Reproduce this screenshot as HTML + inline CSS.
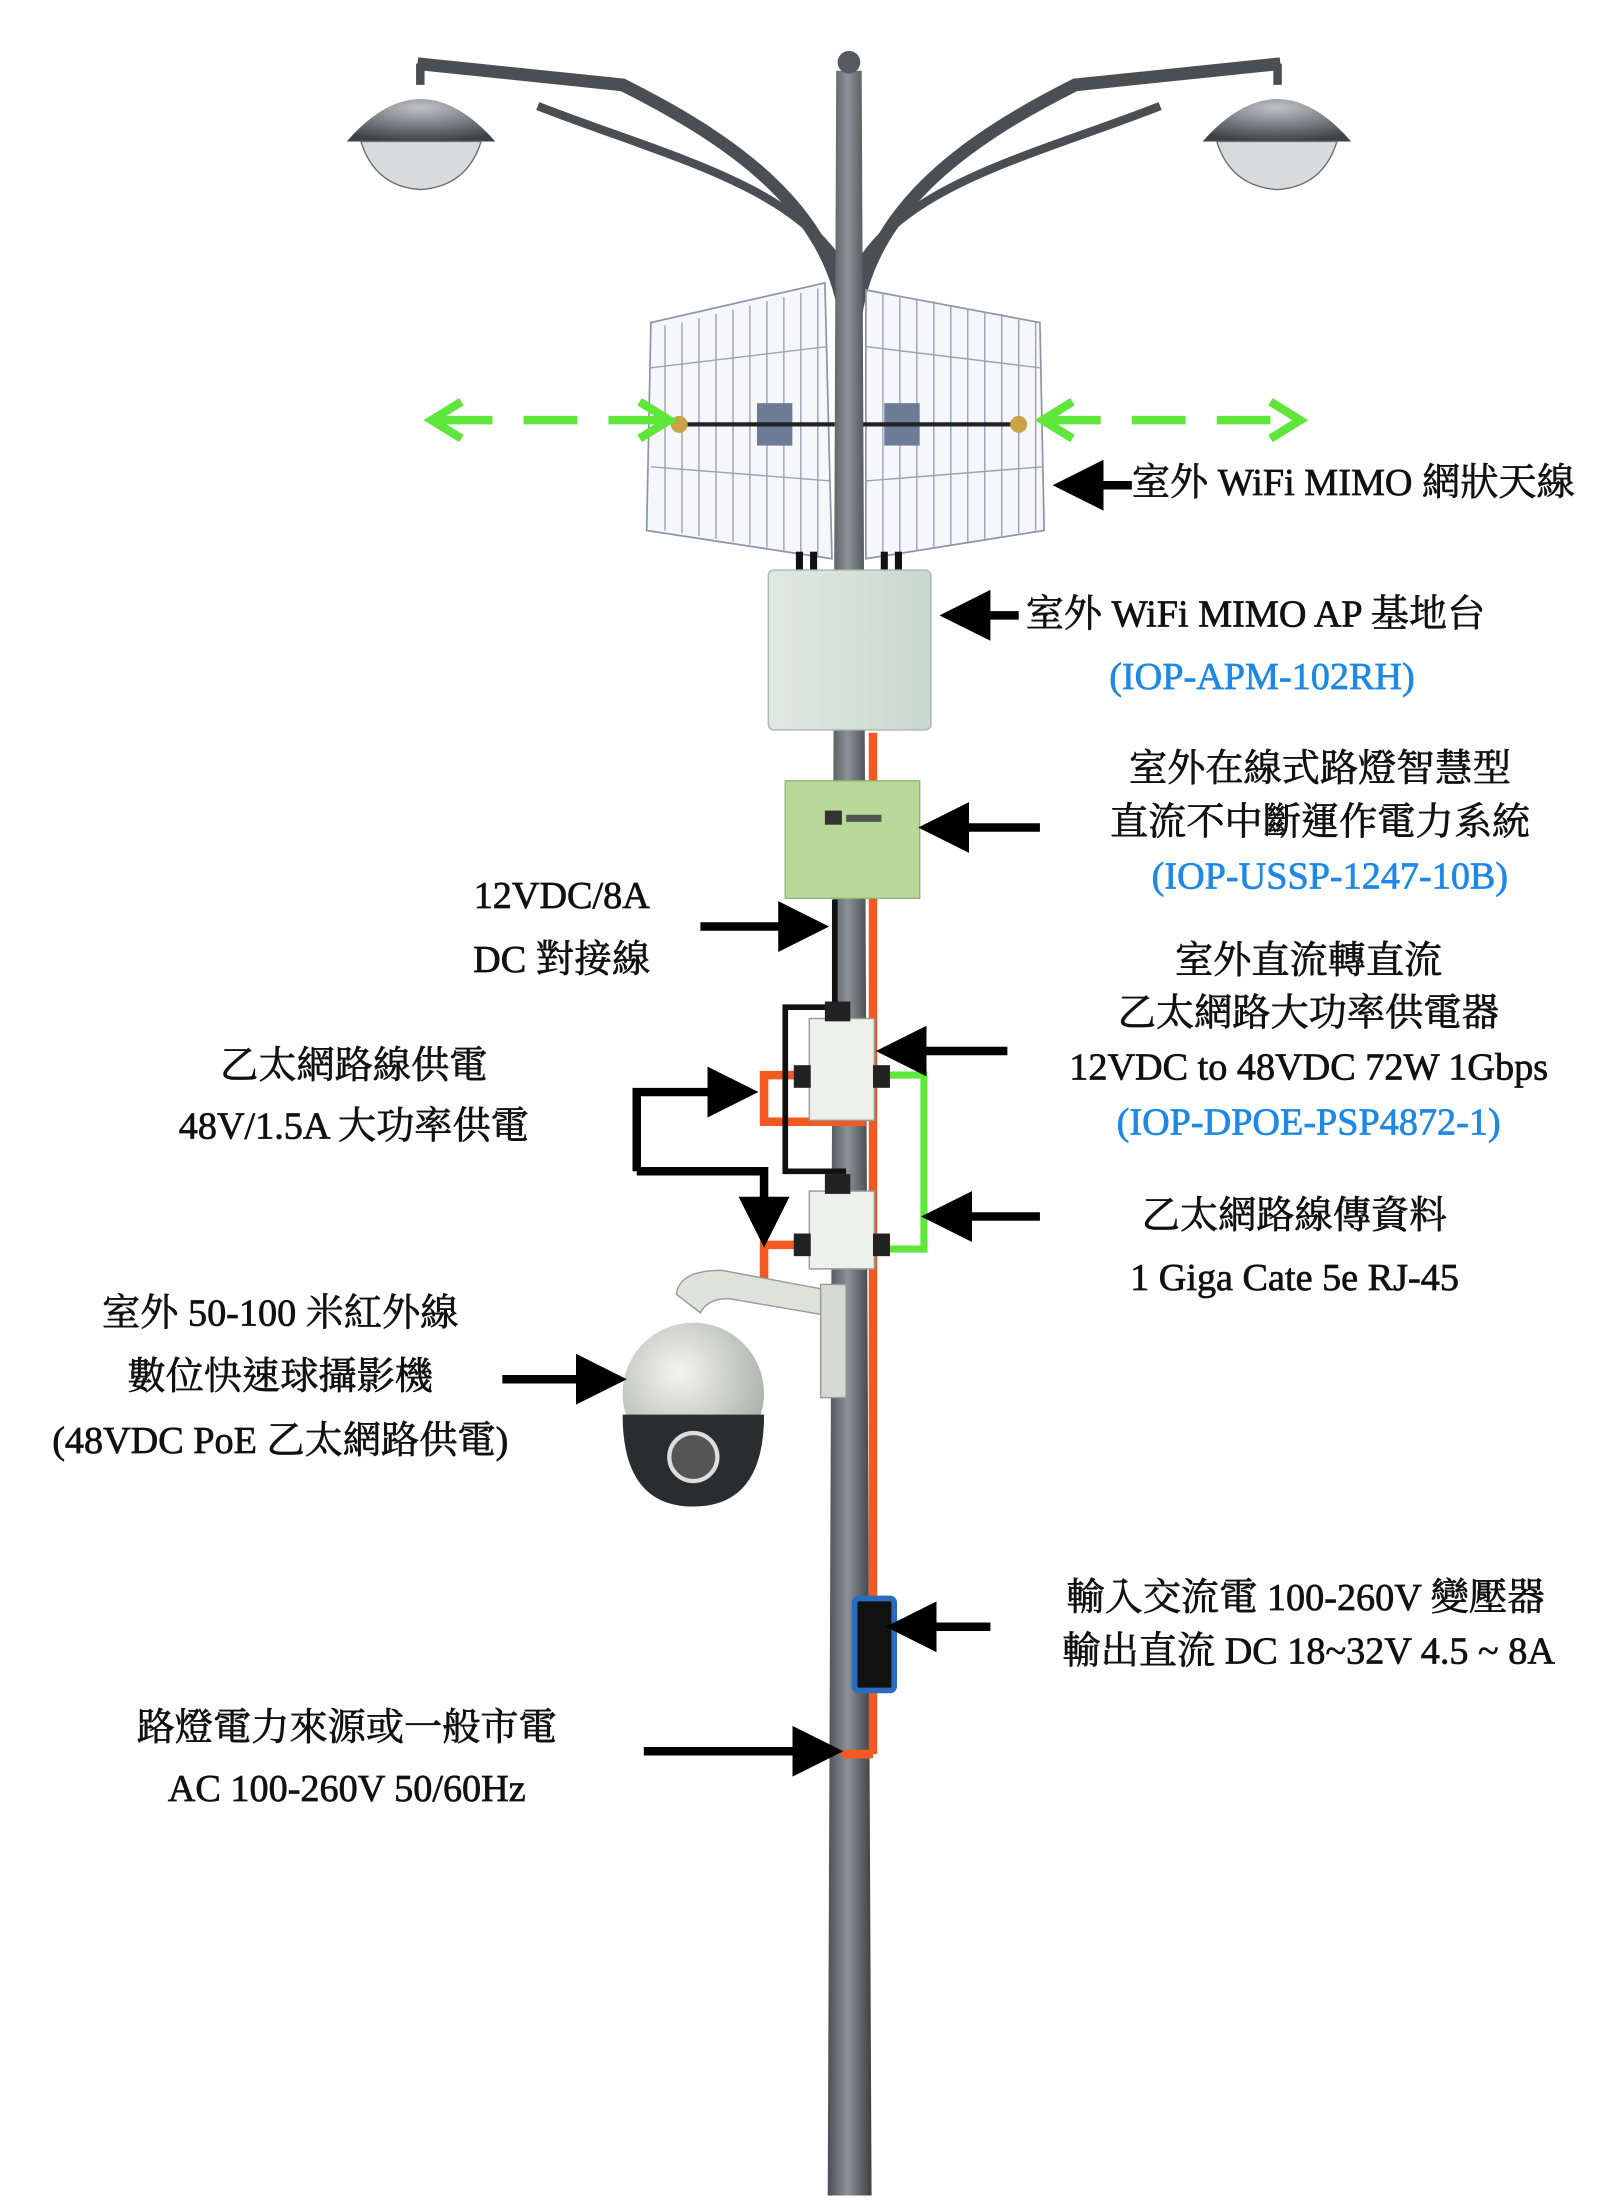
<!DOCTYPE html>
<html><head><meta charset="utf-8"><style>
html,body{margin:0;padding:0;background:#fff;}
svg{display:block;}
text{font-family:"Liberation Serif","Noto Serif CJK TC","Noto Serif CJK SC",serif;font-size:27px;fill:#111;stroke:#111;stroke-width:0.5px;}
.b{fill:#1e88e5;stroke:#1e88e5;}
</style></head><body>
<svg width="1613" height="2211" viewBox="0 0 1140 1563" xmlns="http://www.w3.org/2000/svg">
<defs>
<linearGradient id="pole" x1="0" x2="1" y1="0" y2="0">
<stop offset="0" stop-color="#4a4f55"/><stop offset="0.45" stop-color="#8c9297"/><stop offset="1" stop-color="#3c4045"/></linearGradient>
<linearGradient id="ap" x1="0" x2="1"><stop offset="0" stop-color="#dfe9e2"/><stop offset="1" stop-color="#c9d8cf"/></linearGradient>
<radialGradient id="cam" cx="0.4" cy="0.35" r="0.7"><stop offset="0" stop-color="#f4f4ef"/><stop offset="1" stop-color="#a9aca6"/></radialGradient>
<radialGradient id="lamp" cx="0.5" cy="0.2" r="0.8"><stop offset="0" stop-color="#bfc3c6"/><stop offset="1" stop-color="#3d4246"/></radialGradient>
<marker id="ah" markerWidth="6" markerHeight="6" refX="5" refY="3" orient="auto" markerUnits="strokeWidth"><path d="M0,0 L6,3 L0,6 z" fill="#000"/></marker>
</defs>

<path d="M598,230 C590,150 520,100 440,60 L295,45" fill="none" stroke="#4a4f54" stroke-width="9"/>
<path d="M604,230 C612,150 680,100 760,60 L905,45" fill="none" stroke="#4a4f54" stroke-width="9"/>
<path d="M596,190 C560,130 470,110 380,75" fill="none" stroke="#4a4f54" stroke-width="6"/>
<path d="M606,190 C640,130 730,110 820,75" fill="none" stroke="#4a4f54" stroke-width="6"/>
<path d="M245,100 Q297,40 350,100 Z" fill="url(#lamp)"/>
<path d="M255,100 L340,100 Q330,132 297,134 Q265,132 255,100Z" fill="#d8dadb" stroke="#6b6f72"/>
<path d="M850,100 Q903,40 955,100 Z" fill="url(#lamp)"/>
<path d="M860,100 L945,100 Q935,132 903,134 Q870,132 860,100Z" fill="#d8dadb" stroke="#6b6f72"/>
<line x1="297" y1="45" x2="297" y2="60" stroke="#4a4f54" stroke-width="6"/>
<line x1="903" y1="45" x2="903" y2="60" stroke="#4a4f54" stroke-width="6"/>

<path d="M591,50 L609,50 L616,1552 L585,1552 Z" fill="url(#pole)"/>
<circle cx="600" cy="44" r="8" fill="#555a5f"/>

<g stroke="#8a95a8" stroke-width="1.2" fill="#eef1f7" fill-opacity="0.6">
<path d="M460,228 L583,200 L588,395 L457,375 Z"/>
<path d="M612,205 L735,228 L738,375 L612,395 Z"/>
</g>
<g stroke="#9aa4b5" stroke-width="1">
<path d="M470,230 L470,375 M482,228 L482,377 M494,225 L494,379 M506,222 L506,381 M518,219 L518,383 M530,216 L530,385 M542,213 L542,387 M554,210 L554,389 M566,207 L566,391 M578,204 L578,393"/>
<path d="M624,207 L624,393 M636,209 L636,391 M648,211 L648,389 M660,213 L660,387 M672,216 L672,385 M684,218 L684,383 M696,220 L696,381 M708,222 L708,379 M720,225 L720,377 M732,228 L732,375"/>
<path d="M460,260 L585,245 M460,330 L587,340 M612,245 L735,260 M612,340 L737,330"/>
</g>
<rect x="535" y="285" width="25" height="30" fill="#6c7c96"/>
<rect x="625" y="285" width="25" height="30" fill="#6c7c96"/>
<line x1="475" y1="300" x2="590" y2="300" stroke="#222" stroke-width="3"/>
<line x1="610" y1="300" x2="725" y2="300" stroke="#222" stroke-width="3"/>
<circle cx="480" cy="300" r="6" fill="#c9a24a"/><circle cx="720" cy="300" r="6" fill="#c9a24a"/>
<g stroke="#5ee63a" stroke-width="6" fill="none" stroke-dasharray="38,22">
<line x1="310" y1="297" x2="468" y2="297"/>
<line x1="740" y1="297" x2="915" y2="297"/>
</g>
<path d="M326,284 L305,297 L326,310" stroke="#5ee63a" stroke-width="6" fill="none"/>
<path d="M452,284 L473,297 L452,310" stroke="#5ee63a" stroke-width="6" fill="none"/>
<path d="M758,284 L737,297 L758,310" stroke="#5ee63a" stroke-width="6" fill="none"/>
<path d="M898,284 L919,297 L898,310" stroke="#5ee63a" stroke-width="6" fill="none"/>
<g stroke="#111" stroke-width="5"><line x1="565" y1="390" x2="565" y2="408"/><line x1="575" y1="390" x2="575" y2="408"/><line x1="625" y1="390" x2="625" y2="408"/><line x1="635" y1="390" x2="635" y2="408"/></g>

<rect x="543" y="403" width="115" height="113" rx="4" fill="url(#ap)" stroke="#aab8b0"/>
<g stroke="#f25a22" stroke-width="6" fill="none">
<line x1="617" y1="518" x2="617" y2="1240"/>
<line x1="617" y1="1240" x2="595" y2="1240"/>
<path d="M617,760 L540,760 L540,793 L612,793"/>
<path d="M610,880 L540,880 L540,912"/>
</g>
<rect x="555" y="552" width="95" height="83" fill="#b9d99a" stroke="#94b37a"/>
<rect x="583" y="573" width="12" height="10" fill="#333"/><rect x="598" y="576" width="25" height="5" fill="#555"/>
<path d="M590,636 L590,712 L555,712 L555,828 L598,828" fill="none" stroke="#111" stroke-width="4"/>
<path d="M625,760 L653,760 L653,883 L625,883" fill="none" stroke="#5ee63a" stroke-width="5"/>
<rect x="572" y="720" width="46" height="72" fill="#eef0ea" stroke="#999"/>
<rect x="561" y="753" width="12" height="16" fill="#222"/><rect x="617" y="753" width="12" height="16" fill="#222"/>
<rect x="583" y="708" width="18" height="14" fill="#222"/>
<rect x="572" y="842" width="46" height="55" fill="#eef0ea" stroke="#999"/>
<rect x="561" y="872" width="12" height="16" fill="#222"/><rect x="617" y="872" width="12" height="16" fill="#222"/>
<rect x="583" y="830" width="18" height="14" fill="#222"/>

<path d="M478,915 Q480,898 510,898 L585,912 L585,930 L515,918 Q500,918 495,928 Z" fill="#dfe2da" stroke="#999"/>
<rect x="580" y="908" width="18" height="80" fill="#d7dad2" stroke="#999"/>
<circle cx="490" cy="985" r="50" fill="url(#cam)"/>
<path d="M440,1000 Q440,1065 490,1065 Q540,1065 540,1000 Z" fill="#2a2c2e"/>
<circle cx="490" cy="1030" r="17" fill="#555" stroke="#ddd" stroke-width="3"/>

<rect x="604" y="1130" width="28" height="65" rx="3" fill="#111" stroke="#2b6cc0" stroke-width="4"/>

<g stroke="#000" stroke-width="6" fill="none" marker-end="url(#ah)">
<line x1="800" y1="343" x2="750" y2="343"/>
<line x1="720" y1="435" x2="670" y2="435"/>
<line x1="735" y1="585" x2="655" y2="585"/>
<line x1="495" y1="655" x2="580" y2="655"/>
<line x1="712" y1="743" x2="625" y2="743"/>
<line x1="735" y1="860" x2="657" y2="860"/>
<line x1="355" y1="975" x2="437" y2="975"/>
<line x1="700" y1="1150" x2="632" y2="1150"/>
<line x1="455" y1="1238" x2="590" y2="1238"/>
</g>
<path d="M450,828 L450,772 L530,772" stroke="#000" stroke-width="6" fill="none" marker-end="url(#ah)"/>
<path d="M450,828 L540,828 L540,876" stroke="#000" stroke-width="6" fill="none" marker-end="url(#ah)"/>

<text x="800" y="350">室外 WiFi MIMO 網狀天線</text>
<text x="725" y="443">室外 WiFi MIMO AP 基地台</text>
<text x="892" y="487" text-anchor="middle" class="b">(IOP-APM-102RH)</text>
<text x="933" y="552" text-anchor="middle">室外在線式路燈智慧型</text>
<text x="933" y="590" text-anchor="middle">直流不中斷運作電力系統</text>
<text x="940" y="628" text-anchor="middle" class="b">(IOP-USSP-1247-10B)</text>
<text x="397" y="642" text-anchor="middle">12VDC/8A</text>
<text x="397" y="687" text-anchor="middle">DC 對接線</text>
<text x="925" y="688" text-anchor="middle">室外直流轉直流</text>
<text x="925" y="725" text-anchor="middle">乙太網路大功率供電器</text>
<text x="925" y="763" text-anchor="middle">12VDC to 48VDC 72W 1Gbps</text>
<text x="925" y="802" text-anchor="middle" class="b">(IOP-DPOE-PSP4872-1)</text>
<text x="250" y="762" text-anchor="middle">乙太網路線供電</text>
<text x="250" y="805" text-anchor="middle">48V/1.5A 大功率供電</text>
<text x="915" y="868" text-anchor="middle">乙太網路線傳資料</text>
<text x="915" y="912" text-anchor="middle">1 Giga Cate 5e RJ-45</text>
<text x="198" y="937" text-anchor="middle">室外 50-100 米紅外線</text>
<text x="198" y="982" text-anchor="middle">數位快速球攝影機</text>
<text x="198" y="1027" text-anchor="middle">(48VDC PoE 乙太網路供電)</text>
<text x="923" y="1138" text-anchor="middle">輸入交流電 100-260V 變壓器</text>
<text x="925" y="1176" text-anchor="middle">輸出直流 DC 18~32V 4.5 ~ 8A</text>
<text x="245" y="1230" text-anchor="middle">路燈電力來源或一般市電</text>
<text x="245" y="1273" text-anchor="middle">AC 100-260V 50/60Hz</text>
</svg>
</body></html>
